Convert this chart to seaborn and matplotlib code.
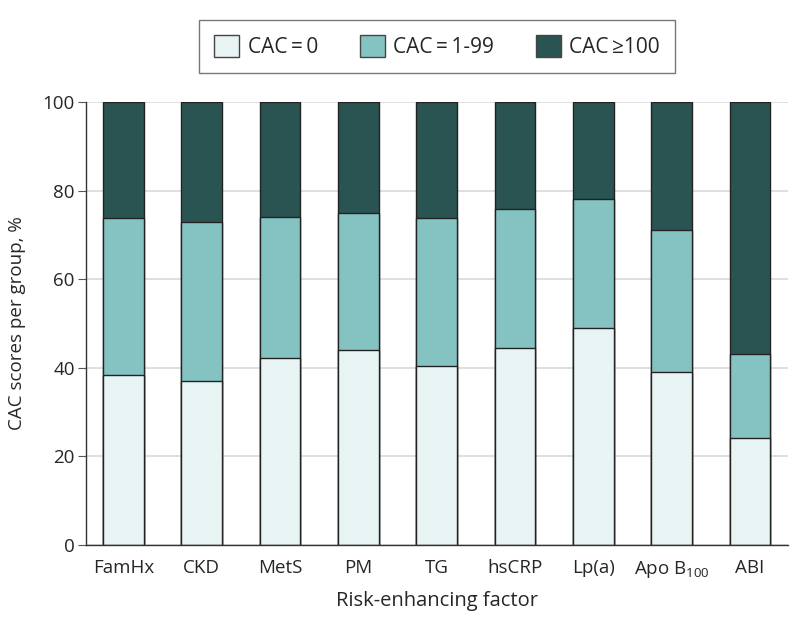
import pandas as pd
import seaborn as sns
import matplotlib.pyplot as plt
from matplotlib.patches import Patch

factors = ["FamHx", "CKD", "MetS", "PM", "TG", "hsCRP", "Lp(a)", "Apo B$_{100}$", "ABI"]
cac_0 = [38.4, 37.1, 42.1, 44.1, 40.5, 44.5, 49.0, 39.0, 24.1]
cac_1_99 = [35.3, 35.9, 31.9, 30.9, 33.2, 31.3, 29.0, 32.0, 18.9]
cac_100 = [26.3, 27.0, 26.0, 25.0, 26.3, 24.2, 22.0, 29.0, 57.0]
labels = ["CAC\u2009=\u20090", "CAC\u2009=\u20091-99", "CAC\u2009\u2265100"]
colors = ["#e8f3f3", "#84c3c1", "#2a5452"]

df = pd.DataFrame({"factor": factors, "c0": cac_0, "c1": cac_1_99, "c2": cac_100})
df["top1"] = df["c0"] + df["c1"]
df["top2"] = df["top1"] + df["c2"]

sns.set_style("white")
plt.rcParams["font.family"] = ["Open Sans", "DejaVu Sans"]
plt.rcParams["mathtext.default"] = "regular"

fig = plt.figure(figsize=(7.94, 6.29), dpi=100)
ax = fig.add_axes([0.108, 0.1335, 0.884, 0.7045])

ax.yaxis.grid(True, color="#d9d9d9", linewidth=1.2)
ax.set_axisbelow(True)

# draw cumulative heights from the back to the front
for col, c in [("top2", colors[2]), ("top1", colors[1]), ("c0", colors[0])]:
    sns.barplot(data=df, x="factor", y=col, color=c, saturation=1, width=0.52,
                edgecolor="#222222", linewidth=1.0, ax=ax)

ax.set_ylim(0, 100)
ax.set_xlim(-0.48, 8.48)
ax.set_yticks([0, 20, 40, 60, 80, 100])
ax.set_ylabel("CAC scores per group, %", fontsize=13.5, labelpad=12)
ax.set_xlabel("Risk-enhancing factor", fontsize=14.5, labelpad=8)
ax.tick_params(axis="y", length=6, color="#555555", labelsize=13.5, pad=2, left=True)
ax.tick_params(axis="x", length=0, labelsize=13.5, pad=10)

for s in ["top", "right"]:
    ax.spines[s].set_visible(False)
for s in ["left", "bottom"]:
    ax.spines[s].set_color("#333333")
    ax.spines[s].set_linewidth(1.0)

handles = [Patch(facecolor=c, edgecolor="#444444", label=l) for c, l in zip(colors, labels)]
leg = fig.legend(handles=handles, loc="center", bbox_to_anchor=(437 / 794, 1 - 46.5 / 629),
                 ncol=3, fontsize=15, frameon=True, fancybox=False, edgecolor="#555555",
                 handlelength=1.2, handleheight=1.2, columnspacing=2.0, borderpad=0.75,
                 handletextpad=0.4, borderaxespad=0)
leg.get_frame().set_linewidth(1.0)

fig.savefig("out.png", dpi=100)
